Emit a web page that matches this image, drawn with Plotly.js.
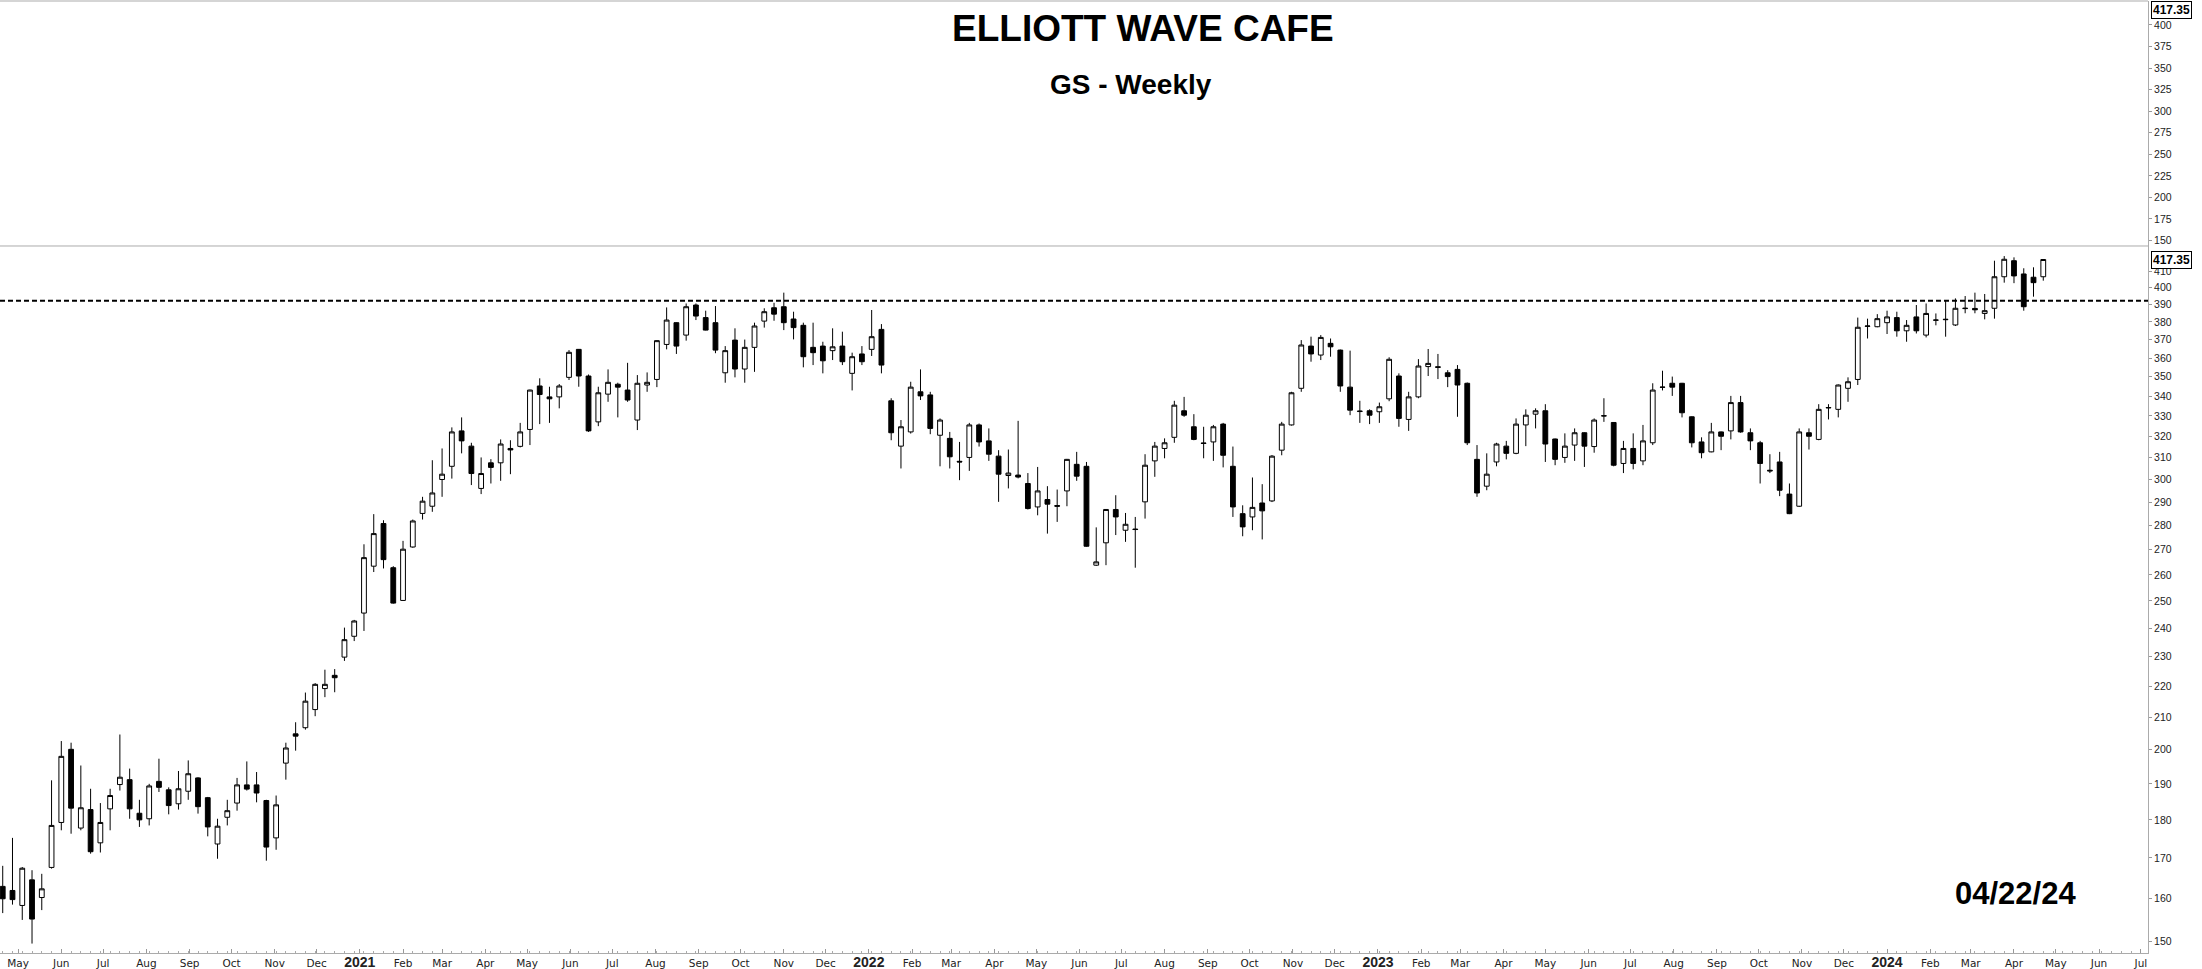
<!DOCTYPE html>
<html>
<head>
<meta charset="utf-8">
<script src="https://cdn.plot.ly/plotly-3.0.1.min.js"></script>
<style>
  html, body { margin: 0; padding: 0; background: #fff; overflow: hidden; }
  #chart { width: 2202px; height: 969px; }
</style>
</head>
<body>
<div id="chart"></div>
<script>
// ---------------- DATA ----------------
const weeks = [
'2020-04-20','2020-04-27','2020-05-04','2020-05-11','2020-05-18','2020-05-25','2020-06-01','2020-06-08','2020-06-15','2020-06-22',
'2020-06-29','2020-07-06','2020-07-13','2020-07-20','2020-07-27','2020-08-03','2020-08-10','2020-08-17','2020-08-24','2020-08-31',
'2020-09-07','2020-09-14','2020-09-21','2020-09-28','2020-10-05','2020-10-12','2020-10-19','2020-10-26','2020-11-02','2020-11-09',
'2020-11-16','2020-11-23','2020-11-30','2020-12-07','2020-12-14','2020-12-21','2020-12-28','2021-01-04','2021-01-11','2021-01-18',
'2021-01-25','2021-02-01','2021-02-08','2021-02-15','2021-02-22','2021-03-01','2021-03-08','2021-03-15','2021-03-22','2021-03-29',
'2021-04-05','2021-04-12','2021-04-19','2021-04-26','2021-05-03','2021-05-10','2021-05-17','2021-05-24','2021-05-31','2021-06-07',
'2021-06-14','2021-06-21','2021-06-28','2021-07-05','2021-07-12','2021-07-19','2021-07-26','2021-08-02','2021-08-09','2021-08-16',
'2021-08-23','2021-08-30','2021-09-06','2021-09-13','2021-09-20','2021-09-27','2021-10-04','2021-10-11','2021-10-18','2021-10-25',
'2021-11-01','2021-11-08','2021-11-15','2021-11-22','2021-11-29','2021-12-06','2021-12-13','2021-12-20','2021-12-27','2022-01-03',
'2022-01-10','2022-01-17','2022-01-24','2022-01-31','2022-02-07','2022-02-14','2022-02-21','2022-02-28','2022-03-07','2022-03-14',
'2022-03-21','2022-03-28','2022-04-04','2022-04-11','2022-04-18','2022-04-25','2022-05-02','2022-05-09','2022-05-16','2022-05-23',
'2022-05-30','2022-06-06','2022-06-13','2022-06-20','2022-06-27','2022-07-04','2022-07-11','2022-07-18','2022-07-25','2022-08-01',
'2022-08-08','2022-08-15','2022-08-22','2022-08-29','2022-09-05','2022-09-12','2022-09-19','2022-09-26','2022-10-03','2022-10-10',
'2022-10-17','2022-10-24','2022-10-31','2022-11-07','2022-11-14','2022-11-21','2022-11-28','2022-12-05','2022-12-12','2022-12-19',
'2022-12-26','2023-01-02','2023-01-09','2023-01-16','2023-01-23','2023-01-30','2023-02-06','2023-02-13','2023-02-20','2023-02-27',
'2023-03-06','2023-03-13','2023-03-20','2023-03-27','2023-04-03','2023-04-10','2023-04-17','2023-04-24','2023-05-01','2023-05-08',
'2023-05-15','2023-05-22','2023-05-29','2023-06-05','2023-06-12','2023-06-19','2023-06-26','2023-07-03','2023-07-10','2023-07-17',
'2023-07-24','2023-07-31','2023-08-07','2023-08-14','2023-08-21','2023-08-28','2023-09-04','2023-09-11','2023-09-18','2023-09-25',
'2023-10-02','2023-10-09','2023-10-16','2023-10-23','2023-10-30','2023-11-06','2023-11-13','2023-11-20','2023-11-27','2023-12-04',
'2023-12-11','2023-12-18','2023-12-25','2024-01-01','2024-01-08','2024-01-15','2024-01-22','2024-01-29','2024-02-05','2024-02-12',
'2024-02-19','2024-02-26','2024-03-04','2024-03-11','2024-03-18','2024-03-25','2024-04-01','2024-04-08','2024-04-15','2024-04-22'
];

const openP = [
162.9,161.9,158.3,164.5,160.2,167.6,179.3,200.1,177.8,182.8,
173.9,183.0,189.8,191.2,181.8,180.3,190.7,188.3,184.4,187.9,
191.7,186.1,173.6,180.7,184.6,189.7,189.7,185.3,175.2,196.0,
204.8,206.7,212.4,219.2,223.6,229.8,237.1,245.5,263.4,280.8,
262.8,250.2,271.1,285.1,288.2,300.0,306.0,322.7,315.4,296.0,
307.6,307.6,314.3,315.3,323.4,345.2,339.6,339.6,349.7,364.7,
350.4,327.1,341.0,346.1,343.1,328.0,345.7,348.6,367.4,379.6,
372.6,389.8,382.5,379.6,352.1,369.8,354.1,365.8,380.5,388.2,
388.8,381.7,378.1,365.8,366.5,364.0,366.5,351.8,362.2,364.7,
375.8,337.6,315.4,322.2,342.2,340.6,320.6,319.1,308.3,310.1,
325.6,317.9,310.7,301.8,302.0,298.2,287.9,291.1,288.5,294.9,
306.9,306.0,263.8,272.8,286.8,278.0,278.5,290.1,308.5,314.3,
319.6,332.6,324.7,316.9,317.4,326.0,306.0,285.0,283.6,289.6,
290.5,313.5,325.6,344.0,366.5,361.6,368.0,364.3,344.6,332.2,
332.6,332.1,338.6,350.4,328.3,339.6,355.4,355.3,352.1,353.9,
346.6,309.2,297.0,308.0,315.4,312.0,325.6,330.9,332.6,318.8,
310.1,315.9,321.8,315.2,330.0,326.8,307.3,314.3,308.5,317.0,
344.5,346.6,346.6,329.6,317.4,312.7,322.2,322.7,336.7,321.8,
317.0,304.2,308.0,293.5,288.2,321.8,318.6,334.0,333.3,344.0,
348.6,377.5,377.3,379.6,382.5,375.0,382.9,372.6,381.0,381.3,
378.3,387.7,387.8,384.9,387.9,406.7,416.6,408.4,406.4,406.7
];

const highP = [
168.0,175.2,167.7,166.9,166.0,191.0,202.6,202.1,195.3,188.6,
184.6,188.6,204.6,194.4,185.5,190.0,197.3,189.0,193.7,196.8,
191.9,186.3,180.3,185.5,191.7,196.5,193.4,185.5,186.7,202.1,
208.4,217.9,221.0,225.5,225.7,240.2,243.0,272.2,284.8,282.2,
263.4,273.6,282.5,292.3,308.8,314.3,324.4,329.3,317.0,310.1,
309.3,318.6,318.2,326.6,343.3,349.2,344.8,346.2,364.3,364.9,
351.2,344.8,353.9,346.9,357.4,350.9,352.3,369.7,388.4,379.8,
390.7,390.7,386.5,389.2,366.5,376.4,370.1,379.6,387.9,391.1,
397.1,385.9,379.6,379.6,368.9,376.4,374.5,362.9,366.5,386.9,
378.8,338.9,328.0,347.4,353.9,342.2,328.8,322.2,317.4,326.6,
326.3,323.9,313.5,313.8,327.6,302.9,305.7,297.0,295.5,309.4,
312.7,308.0,279.2,287.0,293.0,285.3,283.6,311.6,317.4,319.1,
337.6,339.6,330.9,324.7,325.6,326.6,315.2,288.6,300.9,297.9,
311.2,327.1,342.2,369.8,371.7,372.6,370.7,364.6,364.0,337.6,
333.3,336.7,360.4,351.8,342.2,359.4,364.9,362.2,353.5,356.2,
347.0,315.9,312.0,317.0,317.9,328.8,333.3,333.8,335.9,319.0,
321.5,323.9,322.0,328.8,338.9,327.0,317.9,321.5,325.6,346.6,
353.2,350.1,346.8,329.8,319.6,326.6,322.4,340.1,340.1,323.9,
317.9,311.6,312.7,298.2,323.9,323.9,335.9,335.9,346.0,349.7,
382.5,381.9,384.5,386.5,385.9,381.1,389.8,390.7,384.9,392.7,
393.7,395.1,397.1,396.3,416.6,419.5,418.7,411.9,412.5,417.5
];

const lowP = [
156.5,158.5,154.9,149.5,157.2,167.3,177.2,176.3,177.2,171.1,
171.4,177.2,188.1,180.3,178.1,178.5,187.7,181.5,182.8,185.5,
181.7,175.6,169.8,178.5,182.5,188.1,184.8,169.3,172.1,191.2,
199.7,206.1,210.3,216.4,218.0,228.5,235.4,239.0,261.1,262.5,
249.0,250.0,270.8,282.5,285.8,292.3,300.4,312.0,297.5,293.5,
298.2,299.4,302.4,314.8,315.9,326.0,326.6,333.8,348.3,344.8,
322.2,325.0,337.1,329.3,337.1,323.1,342.2,344.6,364.7,362.2,
369.5,381.1,375.2,362.6,346.9,349.7,346.9,352.6,376.8,380.7,
375.4,370.2,355.0,356.2,351.8,358.9,356.2,342.9,356.2,361.1,
351.8,318.2,305.0,321.4,338.0,321.1,306.0,305.0,299.7,303.9,
315.2,308.5,290.1,296.0,300.5,286.8,284.3,276.6,281.5,288.2,
299.4,271.2,263.5,263.8,276.0,273.2,262.8,282.9,301.2,309.7,
317.0,329.6,318.2,309.7,308.5,305.5,283.6,275.5,278.0,274.2,
290.0,311.1,325.3,342.2,358.0,358.9,360.7,342.2,330.4,326.6,
326.0,326.6,337.4,324.7,322.7,338.9,350.4,348.8,344.6,329.6,
315.9,292.3,295.2,306.0,309.2,311.6,315.4,323.9,308.0,306.5,
307.6,308.5,305.7,312.3,327.1,306.0,302.9,304.6,306.5,315.9,
342.9,340.1,329.3,314.8,309.7,312.5,313.5,318.6,321.8,313.5,
298.2,302.9,292.6,284.8,287.9,313.8,318.2,328.3,329.3,337.1,
345.7,370.7,377.0,373.2,371.7,368.9,373.5,371.3,378.1,371.7,
377.7,385.0,385.0,381.5,381.9,403.1,402.8,386.5,394.7,404.3
];

const closeP = [
159.9,159.7,167.4,155.1,162.3,178.5,198.0,183.2,183.3,171.6,
179.3,186.7,191.9,183.0,180.0,189.4,189.0,183.9,188.6,192.9,
183.6,178.1,178.3,182.5,189.7,188.5,187.4,172.8,184.1,200.5,
204.1,215.1,220.6,220.6,222.8,235.9,242.6,266.8,276.6,266.0,
249.2,270.2,281.9,290.4,294.0,302.4,322.2,317.9,302.7,302.7,
305.5,316.4,313.6,322.2,343.1,340.8,338.6,345.2,363.1,350.4,
322.7,341.7,347.1,344.6,338.0,346.6,347.1,369.5,381.1,366.5,
388.8,383.4,375.4,364.3,364.0,354.1,365.8,377.7,385.9,384.5,
379.6,376.8,360.7,362.9,358.5,366.1,358.0,360.7,358.0,371.7,
356.2,321.8,324.7,344.6,340.1,323.9,328.0,310.4,308.0,325.6,
317.4,311.6,302.4,302.9,301.1,287.2,294.9,289.1,288.2,309.2,
301.5,271.4,265.1,286.8,283.6,280.5,278.3,306.5,315.4,317.0,
335.4,330.4,318.6,316.7,324.7,311.1,287.9,279.4,287.7,286.2,
310.7,326.0,341.7,367.1,362.2,371.3,366.1,345.2,332.9,332.4,
330.4,334.6,359.3,328.8,339.6,355.7,357.1,355.0,350.1,345.7,
317.0,294.0,302.4,316.4,312.0,326.0,330.4,332.6,316.4,309.2,
315.4,321.8,315.4,328.0,330.1,306.5,314.3,307.3,317.9,343.1,
344.6,344.6,331.6,317.0,312.3,322.2,320.1,336.7,322.2,317.9,
307.3,303.9,295.2,285.0,322.2,320.1,333.3,334.2,345.7,347.4,
377.0,377.7,381.9,382.9,375.0,378.1,375.0,384.9,381.1,381.5,
387.9,387.9,387.0,386.5,406.7,417.5,407.2,388.8,403.1,417.35
];

const resistanceLevel = 392.3;
const lastCloseLabel = '417.35';
const lastDateLabel = '04/22/24';

const monthTicks = [
'2020-05-01','2020-06-01','2020-07-01','2020-08-01','2020-09-01','2020-10-01','2020-11-01','2020-12-01',
'2021-01-01','2021-02-01','2021-03-01','2021-04-01','2021-05-01','2021-06-01','2021-07-01','2021-08-01','2021-09-01','2021-10-01','2021-11-01','2021-12-01',
'2022-01-01','2022-02-01','2022-03-01','2022-04-01','2022-05-01','2022-06-01','2022-07-01','2022-08-01','2022-09-01','2022-10-01','2022-11-01','2022-12-01',
'2023-01-01','2023-02-01','2023-03-01','2023-04-01','2023-05-01','2023-06-01','2023-07-01','2023-08-01','2023-09-01','2023-10-01','2023-11-01','2023-12-01',
'2024-01-01','2024-02-01','2024-03-01','2024-04-01','2024-05-01','2024-06-01','2024-07-01'
];
const monthLabels = [
'May','Jun','Jul','Aug','Sep','Oct','Nov','Dec',
'2021','Feb','Mar','Apr','May','Jun','Jul','Aug','Sep','Oct','Nov','Dec',
'2022','Feb','Mar','Apr','May','Jun','Jul','Aug','Sep','Oct','Nov','Dec',
'2023','Feb','Mar','Apr','May','Jun','Jul','Aug','Sep','Oct','Nov','Dec',
'2024','Feb','Mar','Apr','May','Jun','Jul'
];
const priceTicks = [150,160,170,180,190,200,210,220,230,240,250,260,270,280,290,300,310,320,330,340,350,360,370,380,390,400,410];
const panelTicks = [150,175,200,225,250,275,300,325,350,375,400];

// ---------------- CHART ----------------
const yearRe = /^\d{4}$/;
const xTickText = monthLabels.map(function (s) {
  return yearRe.test(s)
    ? '<span style="font-family:Liberation Sans, Arial;font-weight:bold;font-size:14px">' + s + '</span>'
    : s;
});

const frameColor = '#ababab';
const axisFont = { family: 'Liberation Sans, Arial, sans-serif', size: 10.5, color: '#222' };

const trace = {
  type: 'candlestick',
  x: weeks, open: openP, high: highP, low: lowP, close: closeP,
  xaxis: 'x', yaxis: 'y',
  increasing: { line: { color: '#000', width: 1 }, fillcolor: '#ffffff' },
  decreasing: { line: { color: '#000', width: 1 }, fillcolor: '#000000' },
  whiskerwidth: 0,
  hoverinfo: 'skip',
  showlegend: false
};

const splitY = 0.74265;
const lastClose = closeP[closeP.length - 1];

const layout = {
  width: 2202, height: 969,
  margin: { l: 0, r: 54, t: 1, b: 16, pad: 0 },
  paper_bgcolor: '#fff', plot_bgcolor: '#fff',
  showlegend: false,
  boxgap: 0.3,
  xaxis: {
    type: 'date',
    range: ['2020-04-18 01:00', '2024-07-06 02:00'],
    rangeslider: { visible: false },
    anchor: 'y',
    showgrid: false, zeroline: false,
    showline: true, linecolor: frameColor, linewidth: 1,
    tickmode: 'array', tickvals: monthTicks, ticktext: xTickText,
    ticks: 'inside', ticklen: 4, tickcolor: '#999', tickwidth: 1,
    minor: { ticks: 'inside', ticklen: 2, tickcolor: '#aaa', dtick: 7 * 86400000, tick0: '2020-04-20', showgrid: false },
    tickfont: { family: 'DejaVu Sans, Verdana, sans-serif', size: 10.5, color: '#222' },
    ticklabelstandoff: 0,
    fixedrange: true
  },
  yaxis: {
    type: 'log',
    domain: [0, splitY],
    range: [Math.log10(147.4), Math.log10(425.9)],
    side: 'right', anchor: 'x',
    showgrid: false, zeroline: false,
    showline: true, linecolor: frameColor, linewidth: 1,
    tickmode: 'array', tickvals: priceTicks, ticktext: priceTicks.map(String),
    ticks: 'outside', ticklen: 3, tickcolor: '#999',
    tickfont: axisFont,
    fixedrange: true
  },
  yaxis2: {
    type: 'linear',
    domain: [splitY, 1],
    range: [143.6, 427.8],
    side: 'right', anchor: 'x',
    showgrid: false, zeroline: false,
    showline: true, linecolor: frameColor, linewidth: 1,
    tickmode: 'array', tickvals: panelTicks, ticktext: panelTicks.map(String),
    ticks: 'outside', ticklen: 3, tickcolor: '#999',
    tickfont: axisFont,
    fixedrange: true
  },
  shapes: [
    { type: 'line', xref: 'paper', yref: 'paper', x0: 0, x1: 1, y0: 1, y1: 1,
      line: { color: frameColor, width: 1 } },
    { type: 'line', xref: 'paper', yref: 'paper', x0: 0, x1: 1, y0: splitY, y1: splitY,
      line: { color: frameColor, width: 1 } },
    { type: 'line', xref: 'paper', yref: 'y', x0: 0, x1: 1, y0: resistanceLevel, y1: resistanceLevel,
      line: { color: '#000', width: 2, dash: '5px,3px' } }
  ],
  annotations: [
    { xref: 'paper', yref: 'paper', x: 0.5321, y: 0.9711, xanchor: 'center', yanchor: 'middle',
      text: 'ELLIOTT WAVE CAFE', showarrow: false,
      font: { family: 'Liberation Sans, Arial, sans-serif', size: 37, color: '#000', weight: 700 } },
    { xref: 'paper', yref: 'paper', x: 0.5265, y: 0.9128, xanchor: 'center', yanchor: 'middle',
      text: 'GS - Weekly', showarrow: false,
      font: { family: 'Liberation Sans, Arial, sans-serif', size: 28, color: '#000', weight: 700 } },
    { xref: 'paper', yref: 'paper', x: 0.9385, y: 0.0620, xanchor: 'center', yanchor: 'middle',
      text: lastDateLabel, showarrow: false,
      font: { family: 'Liberation Sans, Arial, sans-serif', size: 31, color: '#000', weight: 700 } },
    { xref: 'paper', yref: 'y', x: 1, xshift: 3, y: Math.log10(lastClose), xanchor: 'left', yanchor: 'middle',
      text: lastCloseLabel, showarrow: false, bgcolor: '#fff', bordercolor: '#000', borderwidth: 1, borderpad: 1,
      font: { family: 'Liberation Sans, Arial, sans-serif', size: 12, color: '#000', weight: 700 } },
    { xref: 'paper', yref: 'y2', x: 1, xshift: 3, y: lastClose, xanchor: 'left', yanchor: 'middle',
      text: lastCloseLabel, showarrow: false, bgcolor: '#fff', bordercolor: '#000', borderwidth: 1, borderpad: 1,
      font: { family: 'Liberation Sans, Arial, sans-serif', size: 12, color: '#000', weight: 700 } }
  ]
};

Plotly.newPlot('chart', [trace], layout, { displayModeBar: false, staticPlot: true, responsive: false });
</script>
</body>
</html>
